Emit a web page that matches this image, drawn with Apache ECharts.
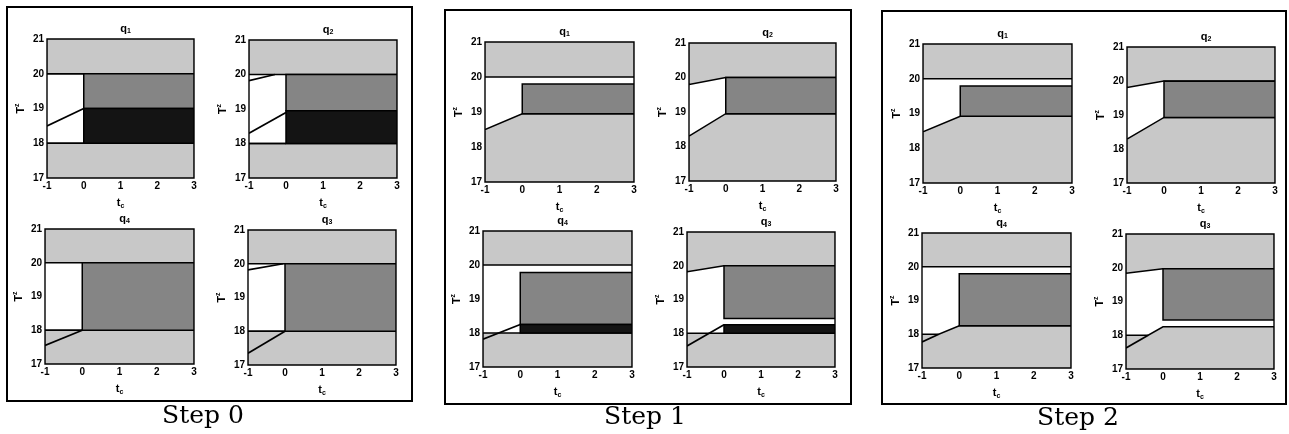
<!DOCTYPE html>
<html>
<head>
<meta charset="utf-8">
<script src="https://cdn.jsdelivr.net/npm/echarts@6/dist/echarts.min.js"></script>
<style>html,body{margin:0;padding:0;background:#fff}#c{width:1289px;height:434px}</style>
</head>
<body>
<div id="c"></div>
<script>
// ---- data ----
const xTicks = [-1, 0, 1, 2, 3];
const yTicks = [17, 18, 19, 20, 21];
const stepLabels = ['Step 0', 'Step 1', 'Step 2'];
const subplotIndex = ['1', '2', '4', '3']; // order: top-left, top-right, bottom-left, bottom-right
const xName = ['t', 'c'];
const yName = ['T', 'z'];

// polygons in (t_c, T) data coordinates, per subplot [q1, q2, q4, q3]
const step0Light = [
  [[[-1,20],[3,20],[3,21],[-1,21]], [[-1,17],[3,17],[3,18],[-1,18]]],
  [[[-1,20],[3,20],[3,21],[-1,21]], [[-1,17],[3,17],[3,18],[-1,18]]],
  [[[-1,20],[3,20],[3,21],[-1,21]], [[-1,17],[3,17],[3,18],[-1,18]]],
  [[[-1,20],[3,20],[3,21],[-1,21]], [[-1,17],[3,17],[3,18],[-1,18]]]
];
const step0Medium = [
  [[[0,19],[3,19],[3,20],[0,20]]],
  [[[0,18.95],[3,18.95],[3,20],[0,20]]],
  [[[0,18],[3,18],[3,20],[0,20]]],
  [[[0,18],[3,18],[3,20],[0,20]]]
];
const step0Dark = [
  [[[0,18],[3,18],[3,19],[0,19]]],
  [[[0,18],[3,18],[3,18.95],[0,18.95]]],
  [],
  []
];
const step0Lines = [
  [[[-1,18.5],[0,19]], [[-1,18],[0,18]], [[-1,20],[0,20]]],
  [[[-1,19.82],[-0.3,20]], [[-1,18.3],[0,18.9]], [[-1,18],[0,18]]],
  [[[-1,17.55],[0,18]], [[-1,18],[0,18]]],
  [[[-1,19.82],[-0.05,20]], [[-1,17.35],[0,18]], [[-1,18],[0,18]]]
];

const step1Light = [
  [[[-1,20],[3,20],[3,21],[-1,21]], [[-1,17],[3,17],[3,18.95],[0,18.95],[-1,18.5]]],
  [[[-1,19.8],[0,20],[3,20],[3,21],[-1,21]], [[-1,17],[3,17],[3,18.95],[0,18.95],[-1,18.3]]],
  [[[-1,20],[3,20],[3,21],[-1,21]], [[-1,17],[3,17],[3,18],[-1,18]]],
  [[[-1,19.82],[0,20],[3,20],[3,21],[-1,21]], [[-1,17],[3,17],[3,18],[-1,18]]]
];
const step1Medium = [
  [[[0,18.95],[3,18.95],[3,19.8],[0,19.8]]],
  [[[0,18.95],[3,18.95],[3,20],[0,20]]],
  [[[0,18.25],[3,18.25],[3,19.78],[0,19.78]]],
  [[[0,18.44],[3,18.44],[3,20],[0,20]]]
];
const step1Dark = [
  [],
  [],
  [[[0,18],[3,18],[3,18.25],[0,18.25]]],
  [[[0,18],[3,18],[3,18.25],[0,18.25]]]
];
const step1Lines = [
  [],
  [],
  [[[-1,17.82],[0,18.25]]],
  [[[-1,17.62],[0,18.25]]]
];

const step2Light = [
  [[[-1,20],[3,20],[3,21],[-1,21]], [[-1,17],[3,17],[3,18.92],[0,18.92],[-1,18.47]]],
  [[[-1,19.81],[0,20],[3,20],[3,21],[-1,21]], [[-1,17],[3,17],[3,18.93],[0,18.93],[-1,18.29]]],
  [[[-1,20],[3,20],[3,21],[-1,21]], [[-1,17],[3,17],[3,18.25],[0,18.25],[-0.55,18],[-1,18]]],
  [[[-1,19.84],[0,19.97],[3,19.97],[3,21],[-1,21]], [[-1,17],[3,17],[3,18.25],[0,18.25],[-0.4,18],[-1,18]]]
];
const step2Medium = [
  [[[0,18.92],[3,18.92],[3,19.79],[0,19.79]]],
  [[[0,18.93],[3,18.93],[3,19.99],[0,19.99]]],
  [[[0,18.25],[3,18.25],[3,19.79],[0,19.79]]],
  [[[0,18.45],[3,18.45],[3,19.97],[0,19.97]]]
];
const step2Dark = [[], [], [], []];
const step2Lines = [
  [],
  [],
  [[[-1,17.77],[-0.55,18]]],
  [[[-1,17.62],[-0.4,18]]]
];

// ---- layout ----
const gridBoxes = [
  [[47,39,147,139],[249,40,148,138],[45,229,149,135],[248,230,148,135]],
  [[485,42,149,140],[689,43,147,138],[483,231,149,136],[687,232,148,135]],
  [[923,44,149,139],[1127,47,148,136],[922,233,149,135],[1126,234,148,135]]
];
const panelFrames = [[7,7,405,394],[445,10,406,394],[882,11,404,393]];
const stepLabelPos = [[203,404],[645,405],[1078,406]];

const steps = [
  {light: step0Light, medium: step0Medium, dark: step0Dark, lines: step0Lines},
  {light: step1Light, medium: step1Medium, dark: step1Dark, lines: step1Lines},
  {light: step2Light, medium: step2Medium, dark: step2Dark, lines: step2Lines}
];
const fills = {light: '#c8c8c8', medium: '#858585', dark: '#141414'};

const grids = [], xAxes = [], yAxes = [], series = [], titles = [];
const tickFont = {fontSize: 10, fontWeight: 'bold', fontFamily: 'Liberation Sans', color: '#000'};
const bigSub = {a: {fontSize: 11, fontWeight: 'bold', fontFamily: 'Liberation Sans', color: '#000'}};
let gi = 0;
steps.forEach((st, s) => {
  for (let k = 0; k < 4; k++) {
    const b = gridBoxes[s][k];
    grids.push({left: b[0], top: b[1], width: b[2], height: b[3], show: true,
      borderColor: '#000', borderWidth: 1.4, backgroundColor: '#fff', containLabel: false});
    xAxes.push({gridIndex: gi, type: 'value', min: xTicks[0], max: xTicks[xTicks.length-1], interval: 1,
      axisLine: {show: false}, splitLine: {show: false},
      axisTick: {show: false},
      axisLabel: Object.assign({margin: 3}, tickFont),
      name: '{a|' + xName[0] + '}{b|' + xName[1] + '}', nameLocation: 'middle', nameGap: 18,
      nameTextStyle: {rich: Object.assign({b: {fontSize: 7, fontWeight: 'bold', fontFamily: 'Liberation Sans', color: '#000', padding: [7,0,0,0]}}, bigSub)}});
    yAxes.push({gridIndex: gi, type: 'value', min: yTicks[0], max: yTicks[yTicks.length-1], interval: 1,
      axisLine: {show: false}, splitLine: {show: false},
      axisTick: {show: false},
      axisLabel: Object.assign({margin: 3}, tickFont),
      name: '{a|' + yName[0] + '}{b|' + yName[1] + '}', nameLocation: 'middle', nameGap: 19,
      nameTextStyle: {rich: Object.assign({b: {fontSize: 7, fontWeight: 'bold', fontFamily: 'Liberation Sans', color: '#000', padding: [0,0,7,0]}}, bigSub)}});
    titles.push({text: '{a|q}{b|' + subplotIndex[k] + '}', left: b[0] + b[2]/2, top: b[1] - 22,
      textAlign: 'center', textStyle: {rich: Object.assign({b: {fontSize: 7, fontWeight: 'bold', fontFamily: 'Liberation Sans', color: '#000', padding: [6,0,0,0]}}, bigSub)}});
    const regs = [];
    ['light', 'medium', 'dark'].forEach(kind => st[kind][k].forEach(p => regs.push({kind, pts: p})));
    st.lines[k].forEach(p => regs.push({kind: 'line', pts: p}));
    series.push({type: 'custom', xAxisIndex: gi, yAxisIndex: gi, silent: true, animation: false,
      clip: true,
      data: regs.map(r => r.pts[0]),
      renderItem: (params, api) => {
        const r = regs[params.dataIndex];
        const pts = r.pts.map(p => api.coord(p));
        if (r.kind === 'line') {
          return {type: 'polyline', shape: {points: pts}, style: {stroke: '#000', lineWidth: 1.7, fill: null}};
        }
        return {type: 'polygon', shape: {points: pts}, style: {fill: fills[r.kind], stroke: '#000', lineWidth: 1.5, lineJoin: 'miter'}};
      }});
    gi++;
  }
});

const graphics = [];
panelFrames.forEach(f => graphics.push({type: 'rect', shape: {x: f[0], y: f[1], width: f[2], height: f[3]},
  style: {fill: null, stroke: '#000', lineWidth: 2}, silent: true}));
stepLabels.forEach((t, i) => graphics.push({type: 'text', x: stepLabelPos[i][0], y: stepLabelPos[i][1],
  style: {text: t, fontSize: 25, fontFamily: 'DejaVu Serif', fill: '#000', textAlign: 'center', textVerticalAlign: 'top'}}));

const chart = echarts.init(document.getElementById('c'), null, {renderer: 'canvas'});
chart.setOption({animation: false, backgroundColor: '#fff', title: titles, grid: grids,
  xAxis: xAxes, yAxis: yAxes, series: series, graphic: graphics});
</script>
</body>
</html>
